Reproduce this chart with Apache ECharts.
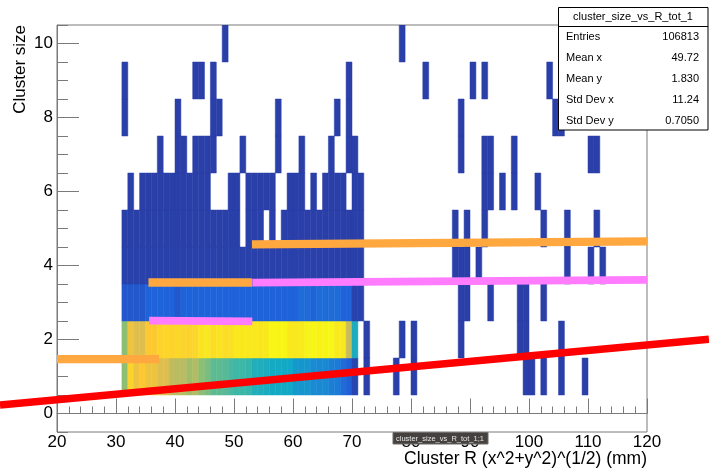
<!DOCTYPE html>
<html><head><meta charset="utf-8">
<script src="https://cdn.jsdelivr.net/npm/echarts@6/dist/echarts.min.js"></script>
<style>html,body{margin:0;padding:0;background:#fff}#c{width:709px;height:469px}</style>
</head><body><div id="c"></div>
<script>
// ---- axis ranges / ticks ----
const xMin = 20, xMax = 120, xInterval = 10;
const yMin = -0.5, yMax = 10.5;
const yTickLabels = [0, 2, 4, 6, 8, 10];
const yMinorTicks = [-0.5, 0.5, 1, 1.5, 2.5, 3, 3.5, 4.5, 5, 5.5, 6.5, 7, 7.5, 8.5, 9, 9.5, 10.5];
const xTitle = 'Cluster R (x^2+y^2)^(1/2) (mm)';
const yTitle = 'Cluster size';

// ---- 2D histogram: x bins are 1 mm wide, y bins are cluster sizes ----
const denseFirstBin = 31;
// cluster size 1, bins 31..70
const row1Counts = [1250,1800,1650,1750,1650,1650,1550,1550,1420,1400,
                    1400,1320,1380,1250,1200,1100,1100,1080,1040,1000,
                    1000,960,860,840,820,780,780,770,760,640,
                    620,620,540,520,520,450,430,320,230,40];
// cluster size 2, bins 31..70
const row2Counts = [1250,1650,1550,1550,1750,1750,1800,1820,1800,1830,
                    1810,1800,1820,1900,1920,1860,1900,1860,1870,1920,
                    1930,1920,1920,1910,1930,2000,1990,2000,1930,1920,
                    1940,1990,2000,1980,1990,2000,1940,1930,1450,820];
// cluster size 3, bins 31..71
const row3Counts = [180,180,180,180,260,260,260,260,260,180,
                    260,260,260,260,260,260,260,260,260,260,
                    260,260,260,260,260,260,260,260,260,260,
                    320,320,260,320,320,320,320,260,260,30,
                    25];
// cluster size 4, bins 31..71
const row4Counts = [14,15,13,16,15,14,16,15,14,13,
                    15,14,13,12,14,13,12,13,12,11,
                    12,11,12,10,11,10,11,10,9,10,
                    9,8,9,8,7,8,7,6,6,5,
                    4];
// cluster size 5, bins 31..71 (0 = empty bin)
const row5Counts = [6,7,6,7,6,6,7,6,5,6,
                    5,6,5,5,6,5,4,5,4,4,
                    0,4,3,4,0,3,0,3,3,3,
                    3,2,3,2,2,3,2,2,2,2,
                    2];
// sparse bins (x bin start) with a single entry
const sparseRow1 = [72, 77, 80, 99, 100, 102, 105, 109];
const sparseRow2 = [72, 78, 80, 88, 98, 99, 105];
const sparseRow3 = [88, 89, 93, 98, 99, 102];
const sparseRow4 = [87, 88, 89, 91, 106, 110, 112];
const sparseRow5 = [87, 89, 92, 102, 106, 111];
const sparseRow6 = [32, 34, 35, 36, 37, 38, 39, 40, 41, 42, 43, 44, 45, 49, 50, 52, 53, 54, 55, 56,
                    59, 60, 61, 63, 65, 66, 67, 68, 70, 71, 92, 93, 95, 97, 101];
const sparseRow7 = [37, 40, 41, 43, 44, 45, 46, 51, 57, 61, 66, 69, 70, 88, 92, 93, 97, 110, 111];
const sparseRow8 = [31, 40, 46, 47, 57, 67, 69, 88, 104, 105];
const sparseRow9 = [31, 43, 44, 46, 69, 82, 90, 92, 103];
const sparseRow10 = [48, 78];

// ---- overlaid lines (data coordinates) ----
const redLine = [[10.34, 0.23], [130.5, 2.01]];
const orangeLine1 = [[20, 1.47], [37.3, 1.47]];
const orangeLine2 = [[35.5, 3.54], [53.05, 3.54]];
const orangeLine3 = [[53.05, 4.57], [120, 4.65]];
const magentaLine1 = [[35.6, 2.51], [53.1, 2.49]];
const magentaLine2 = [[53.1, 3.535], [120, 3.61]];

// ---- stats box ----
const statsTitle = 'cluster_size_vs_R_tot_1';
const statsLabels = ['Entries', 'Mean x', 'Mean y', 'Std Dev x', 'Std Dev y'];
const statsValues = ['106813', '49.72', '1.830', '11.24', '0.7050'];

// ---- build histogram cells ----
const cells = [];
[[1,row1Counts],[2,row2Counts],[3,row3Counts],[4,row4Counts],[5,row5Counts]].forEach(([y, arr]) => {
  arr.forEach((c, i) => { if (c > 0) cells.push([denseFirstBin + i, y, c]); });
});
[sparseRow1,sparseRow2,sparseRow3,sparseRow4,sparseRow5,sparseRow6,sparseRow7,sparseRow8,sparseRow9,sparseRow10]
  .forEach((arr, k) => arr.forEach(b => cells.push([b, k + 1, 1])));
const zMax = Math.max(...cells.map(c => c[2]));

const palette = ['#2a3fa8','#1f62da','#1a86d4','#0fa8c8','#3db7a6','#8dbe72','#d6bb55','#fdc932','#f8f614'];
function hex(h){return [parseInt(h.substr(1,2),16),parseInt(h.substr(3,2),16),parseInt(h.substr(5,2),16)];}
const palRGB = palette.map(hex);
function colorFor(c){
  const t = Math.max(0, Math.min(1, c / zMax));
  const pos = t * (palRGB.length - 1);
  const i = Math.min(palRGB.length - 2, Math.floor(pos));
  const f = pos - i;
  const a = palRGB[i], b = palRGB[i+1];
  const r = a.map((v, k) => Math.round(v + (b[k]-v)*f));
  return 'rgb(' + r.join(',') + ')';
}

const FONT = "'Liberation Sans', Arial, Helvetica, sans-serif";
const axisColor = '#7a7a7a';

// straight segments drawn through the axes' scales, not clipped to the frame
function segmentSeries(pts, color, width){
  return {type:'custom', data:[[pts[0][0], pts[0][1], pts[1][0], pts[1][1]]],
    xAxisIndex:0, yAxisIndex:0, clip:false, silent:true, z:10, encode:{x:[0,2], y:[1,3]},
    renderItem:function(params, api){
      const a = api.coord([api.value(0), api.value(1)]);
      const b = api.coord([api.value(2), api.value(3)]);
      return {type:'line', shape:{x1:a[0], y1:a[1], x2:b[0], y2:b[1]},
        style:{stroke:color, lineWidth:width, lineCap:'butt', fill:null}};
    }};
}

const chart = echarts.init(document.getElementById('c'), null, {renderer:'canvas'});
const graphic = [];
// x axis title, right-aligned to the frame's right edge
graphic.push({type:'text', z:20, x:647, y:459.5, style:{text:xTitle, font:'17.5px ' + FONT, fill:'#000', align:'right', verticalAlign:'middle'}});
graphic.push({type:'rect', z:100, shape:{x:558.5, y:7.5, width:149.5, height:122.5},
  style:{fill:'#fff', stroke:'#000', lineWidth:1}});
graphic.push({type:'line', z:101, shape:{x1:558.5, y1:26.5, x2:708, y2:26.5}, style:{stroke:'#000', lineWidth:1}});
graphic.push({type:'text', z:101, x:633, y:17, style:{text:statsTitle, font:'11px ' + FONT, fill:'#000', align:'center', verticalAlign:'middle'}});
statsLabels.forEach((l, i) => {
  const y = 37 + i * 21;
  graphic.push({type:'text', z:101, x:566, y, style:{text:l, font:'11px ' + FONT, fill:'#000', align:'left', verticalAlign:'middle'}});
  graphic.push({type:'text', z:101, x:699, y, style:{text:statsValues[i], font:'11px ' + FONT, fill:'#000', align:'right', verticalAlign:'middle'}});
});
// hover tooltip visible in the screenshot
graphic.push({type:'rect', z:110, shape:{x:393, y:432.5, width:95, height:11.5},
  style:{fill:'#45413f', stroke:'#6e6a67', lineWidth:1}});
graphic.push({type:'text', z:111, x:396, y:438.5, style:{text:'cluster_size_vs_R_tot_1;1', font:'7.5px ' + FONT, fill:'#e6e6e6', align:'left', verticalAlign:'middle'}});

chart.setOption({
  backgroundColor:'#fff',
  animation:false,
  grid:{left:57, right:62, top:25, bottom:37, containLabel:false, outerBoundsMode:'none',
    show:true, borderColor:axisColor, borderWidth:1, backgroundColor:'transparent'},
  xAxis:{type:'value', min:xMin, max:xMax, interval:xInterval,
    axisLine:{show:true, lineStyle:{color:axisColor, width:1}},
    axisTick:{show:true, inside:true, length:15, lineStyle:{color:axisColor, width:1}},
    minorTick:{show:true, splitNumber:5, length:7, lineStyle:{color:axisColor, width:1}},
    splitLine:{show:false}, minorSplitLine:{show:false},
    axisLabel:{fontSize:17, color:'#000', margin:2, fontFamily:FONT}
  },
  yAxis:[{type:'value', min:yMin, max:yMax, position:'left',
    axisLine:{show:true, lineStyle:{color:axisColor, width:1}},
    axisTick:{show:true, inside:true, length:22, customValues:yTickLabels, lineStyle:{color:axisColor, width:1}},
    axisLabel:{customValues:yTickLabels, fontSize:17, color:'#000', margin:4, fontFamily:FONT},
    splitLine:{show:false},
    name:yTitle, nameLocation:'end', nameGap:0, nameRotate:90,
    nameTextStyle:{fontSize:17, color:'#000', fontFamily:FONT, align:'right', verticalAlign:'bottom', padding:[0,0,28,0]}
  },{type:'value', min:yMin, max:yMax, position:'left', offset:0,
    axisLine:{show:false},
    axisTick:{show:true, inside:true, length:11, customValues:yMinorTicks, lineStyle:{color:axisColor, width:1}},
    axisLabel:{show:false}, splitLine:{show:false}
  }],
  series:[
    {type:'custom', data:cells, xAxisIndex:0, yAxisIndex:0, clip:true, silent:true, z:2,
      encode:{x:0, y:1},
      renderItem:function(params, api){
        const x0 = api.value(0), y = api.value(1), c = api.value(2);
        const p0 = api.coord([x0, y + 0.5]);
        const p1 = api.coord([x0 + 1, y - 0.5]);
        const col = colorFor(c);
        return {type:'rect', shape:{x:p0[0], y:p0[1], width:p1[0]-p0[0], height:p1[1]-p0[1]},
          style:{fill:col, stroke:col, lineWidth:0.5}};
      }
    },
    segmentSeries(orangeLine1, '#ffa840', 8.3),
    segmentSeries(orangeLine2, '#ffa840', 8.3),
    segmentSeries(orangeLine3, '#ffa840', 8.3),
    segmentSeries(magentaLine1, '#ff7cff', 7.7),
    segmentSeries(magentaLine2, '#ff7cff', 7.7),
    segmentSeries(redLine, '#ff0000', 7.5)
  ],
  graphic:graphic
});
</script></body></html>
